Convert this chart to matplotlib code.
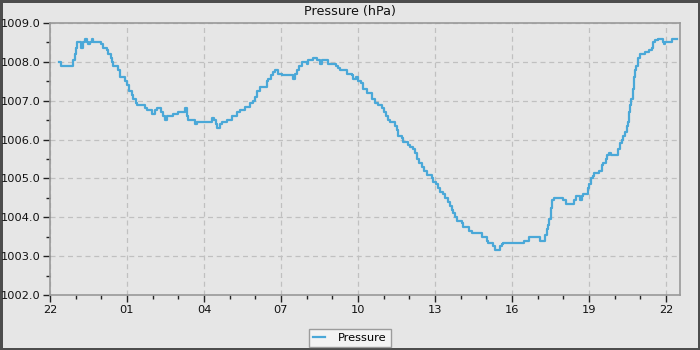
import numpy as np
import matplotlib.pyplot as plt
from matplotlib.ticker import MultipleLocator, FixedLocator, FixedFormatter, FormatStrFormatter

# hours since 22:00 and pressure readings (hPa)
hours = [0.35, 0.43, 0.86, 0.91, 0.97, 1.01, 1.06, 1.21, 1.30, 1.36, 1.43, 1.49, 1.56,
         1.65, 1.69, 1.98, 2.08, 2.21, 2.27, 2.36, 2.43, 2.47, 2.66, 2.73, 2.92, 3.01,
         3.09, 3.18, 3.25, 3.35, 3.40, 3.70, 3.77, 3.96, 4.09, 4.16, 4.32, 4.41, 4.48,
         4.56, 4.80, 4.99, 5.26, 5.33, 5.39, 5.57, 5.65, 5.72, 6.30, 6.39, 6.47, 6.52,
         6.62, 6.69, 6.88, 7.08, 7.30, 7.40, 7.60, 7.79, 7.92, 7.99, 8.05, 8.18, 8.44,
         8.51, 8.60, 8.70, 8.77, 8.89, 9.03, 9.35, 9.46, 9.55, 9.64, 9.71, 9.81, 10.00,
         10.06, 10.26, 10.39, 10.52, 10.59, 10.78, 10.84, 11.14, 11.23, 11.30, 11.56,
         11.75, 11.82, 11.92, 12.01, 12.11, 12.18, 12.34, 12.53, 12.66, 12.79, 12.92,
         13.01, 13.09, 13.18, 13.25, 13.44, 13.51, 13.57, 13.70, 13.76, 13.96, 14.03,
         14.13, 14.22, 14.31, 14.39, 14.48, 14.57, 14.68, 14.87, 14.93, 15.04, 15.13,
         15.19, 15.32, 15.39, 15.52, 15.58, 15.65, 15.71, 15.78, 15.85, 16.04, 16.10,
         16.34, 16.43, 16.82, 17.01, 17.08, 17.27, 17.34, 17.53, 17.60, 17.66, 18.47,
         18.67, 19.01, 19.09, 19.29, 19.36, 19.41, 19.45, 19.51, 19.58, 19.64, 20.00,
         20.10, 20.43, 20.49, 20.65, 20.72, 20.78, 20.95, 21.01, 21.07, 21.15, 21.21,
         21.40, 21.50, 21.56, 21.65, 21.72, 21.78, 21.88, 22.14, 22.21, 22.30, 22.34,
         22.40, 22.47, 22.51, 22.57, 22.62, 22.66, 22.70, 22.75, 22.79, 22.83, 22.92,
         22.99, 23.18, 23.35, 23.44, 23.50, 23.57, 23.70, 23.87, 23.92, 23.96, 24.22,
         24.43]
pressure = [1008.0, 1007.9, 1007.9, 1008.05, 1008.2, 1008.35, 1008.5, 1008.35, 1008.5,
            1008.6, 1008.5, 1008.45, 1008.5, 1008.6, 1008.5, 1008.45, 1008.35, 1008.3,
            1008.2, 1008.1, 1008.0, 1007.9, 1007.8, 1007.6, 1007.5, 1007.4, 1007.25,
            1007.15, 1007.05, 1006.95, 1006.9, 1006.8, 1006.75, 1006.65, 1006.75, 1006.8,
            1006.7, 1006.6, 1006.5, 1006.6, 1006.65, 1006.7, 1006.8, 1006.6, 1006.5,
            1006.5, 1006.4, 1006.45, 1006.55, 1006.5, 1006.4, 1006.3, 1006.4, 1006.45,
            1006.5, 1006.6, 1006.7, 1006.75, 1006.85, 1006.95, 1007.0, 1007.1, 1007.25,
            1007.35, 1007.5, 1007.55, 1007.65, 1007.75, 1007.8, 1007.7, 1007.65, 1007.65,
            1007.55, 1007.7, 1007.8, 1007.9, 1008.0, 1007.95, 1008.05, 1008.1, 1008.05,
            1007.95, 1008.05, 1008.05, 1007.95, 1007.9, 1007.85, 1007.8, 1007.7, 1007.65,
            1007.55, 1007.6, 1007.5, 1007.45, 1007.3, 1007.2, 1007.05, 1006.95, 1006.9,
            1006.8, 1006.7, 1006.6, 1006.5, 1006.45, 1006.35, 1006.25, 1006.1, 1006.05,
            1005.95, 1005.85, 1005.8, 1005.75, 1005.65, 1005.5, 1005.4, 1005.3, 1005.2,
            1005.1, 1005.0, 1004.9, 1004.85, 1004.75, 1004.65, 1004.6, 1004.5, 1004.4,
            1004.3, 1004.2, 1004.1, 1004.0, 1003.9, 1003.85, 1003.75, 1003.65, 1003.6,
            1003.5, 1003.4, 1003.35, 1003.25, 1003.15, 1003.25, 1003.3, 1003.35, 1003.4,
            1003.5, 1003.5, 1003.4, 1003.55, 1003.7, 1003.8, 1003.95, 1004.25, 1004.45,
            1004.5, 1004.45, 1004.35, 1004.45, 1004.55, 1004.45, 1004.55, 1004.6, 1004.75,
            1004.85, 1005.0, 1005.05, 1005.15, 1005.2, 1005.35, 1005.4, 1005.5, 1005.6,
            1005.65, 1005.6, 1005.75, 1005.9, 1006.0, 1006.1, 1006.2, 1006.35, 1006.45,
            1006.7, 1006.9, 1007.05, 1007.3, 1007.6, 1007.8, 1007.9, 1008.1, 1008.2,
            1008.25, 1008.3, 1008.35, 1008.5, 1008.55, 1008.6, 1008.5, 1008.45, 1008.5,
            1008.6, 1008.6]

tick_hours = [0, 3, 6, 9, 12, 15, 18, 21, 24]
tick_labels = ["22", "01", "04", "07", "10", "13", "16", "19", "22"]

bg = "#e6e6e6"
fig = plt.figure(figsize=(7, 3.5), dpi=100)
fig.patch.set_facecolor(bg)
fig.patch.set_edgecolor("#4d4d4d")
fig.patch.set_linewidth(3.5)

ax = fig.add_axes([50 / 700, 1 - 295 / 350, 630 / 700, 272 / 350])
ax.set_facecolor(bg)

ax.plot(hours, pressure, drawstyle="steps-post", color="#4aa8d8", lw=1.6,
        label="Pressure", zorder=3)

ax.set_xlim(0, 24.55)
ax.set_ylim(1002, 1009)
ax.xaxis.set_major_locator(FixedLocator(tick_hours))
ax.xaxis.set_major_formatter(FixedFormatter(tick_labels))
ax.xaxis.set_minor_locator(MultipleLocator(1))
ax.yaxis.set_major_locator(MultipleLocator(1))
ax.yaxis.set_minor_locator(MultipleLocator(0.5))
ax.yaxis.set_major_formatter(FormatStrFormatter("%.1f"))

ax.grid(True, which="major", color="#c0c0c0", linestyle=(0, (4, 3)), lw=0.9)
for s in ax.spines.values():
    s.set_color("#999999")
    s.set_linewidth(1.2)
ax.tick_params(which="major", length=5, width=1, color="#222222",
               labelsize=8.2, labelcolor="#111111", pad=2)
ax.tick_params(which="minor", length=3, width=1, color="#222222")

# title is centred on the whole figure, not the axes
fig.text(0.5, 1 - 11 / 350, "Pressure (hPa)", ha="center", va="center",
         fontsize=9.2, color="#111111")

leg = fig.legend(loc="center", bbox_to_anchor=(0.5, 1 - 338 / 350), fontsize=8.2,
                 frameon=True, fancybox=False, handlelength=1.0, handletextpad=1.2,
                 borderpad=0.35, borderaxespad=0)
leg.get_frame().set_facecolor("#f7f7f7")
leg.get_frame().set_edgecolor("#888888")
leg.get_frame().set_linewidth(1.0)

fig.savefig("out.png", dpi=100, facecolor=fig.get_facecolor(), edgecolor=fig.get_edgecolor())
